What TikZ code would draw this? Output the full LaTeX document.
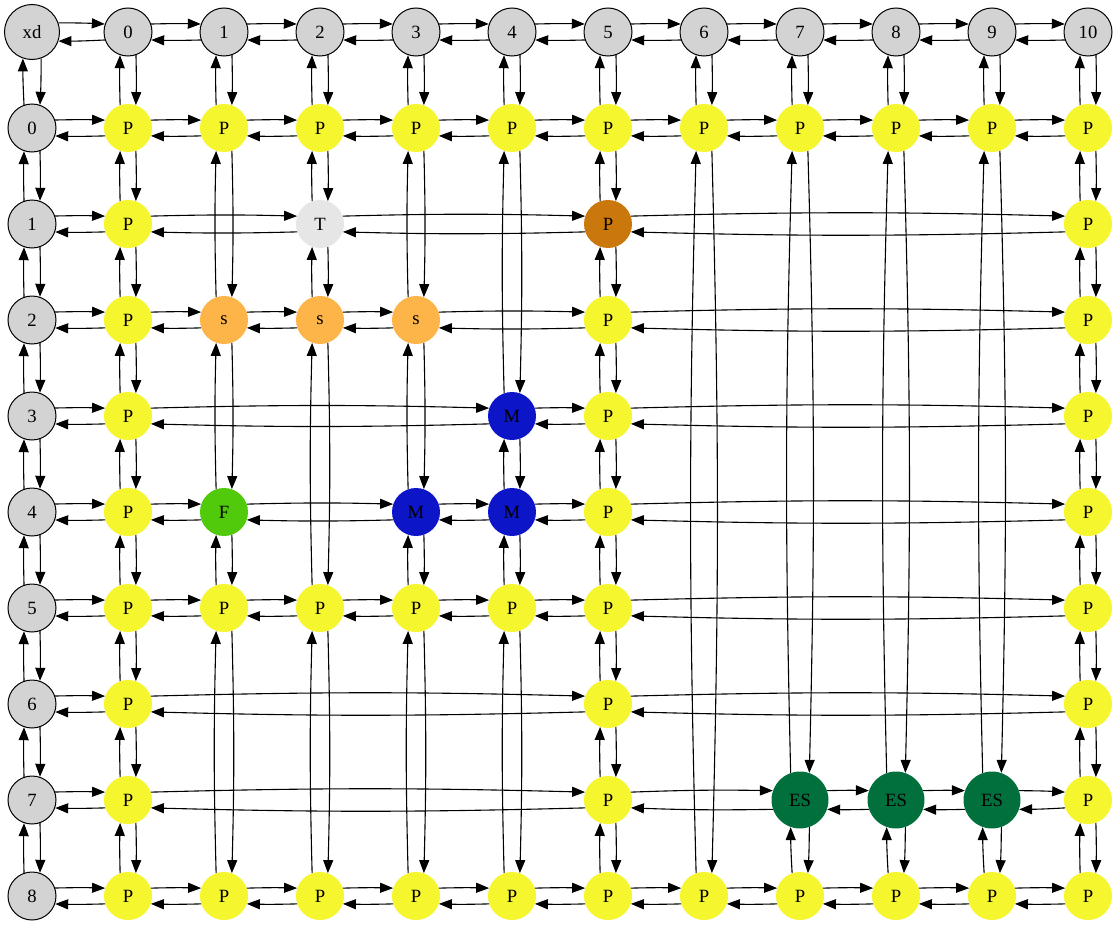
\documentclass[tikz,border=0pt]{standalone}
\usepackage{fontspec}
\setmainfont{Liberation Serif}
\usetikzlibrary{arrows.meta}
\definecolor{hdgray}{RGB}{211,211,211}
\definecolor{pyel}{RGB}{246,246,46}
\definecolor{tgray}{RGB}{230,230,230}
\definecolor{pbrown}{RGB}{202,120,12}
\definecolor{sorange}{RGB}{253,180,72}
\definecolor{mblue}{RGB}{12,22,200}
\definecolor{fgreen}{RGB}{80,202,10}
\definecolor{esgreen}{RGB}{2,112,60}
\tikzset{
  hd/.style={circle,draw=black,line width=1pt,fill=hdgray,minimum size=48pt,inner sep=0pt},
  cell/.style={circle,minimum size=48pt,inner sep=0pt},
  pn/.style={cell,fill=pyel},
  edge/.style={-{Triangle[length=13pt,width=10pt]},line width=1.1pt},
}
\newcommand\hlink[2]{\draw[edge] (#1.19) to[bend left=1.5] (#2.161);
  \draw[edge] (#2.199) to[bend left=1.5] (#1.341);}
\newcommand\vlink[2]{\draw[edge] (#1.289) to[bend left=1.5] (#2.71);
  \draw[edge] (#2.109) to[bend left=1.5] (#1.251);}
\begin{document}
\begin{tikzpicture}[x=1pt,y=-1pt,font=\fontsize{18.7}{20}\selectfont]
\useasboundingbox (0,0) rectangle (1120,926);
% headers
\node[hd,minimum size=55pt] (xd) at (32,32) {xd};
\foreach \c in {0,...,10} \node[hd] (c\c) at ({128+96*\c},32) {\c};
\foreach \r in {0,...,8} \node[hd] (r\r) at (32,{128+96*\r}) {\r};
% cells
\foreach \r in {0,8} \foreach \c in {0,...,10}
  \node[pn] (g\r-\c) at ({128+96*\c},{128+96*\r}) {P};
\foreach \r in {1,...,7} \foreach \c in {0,10}
  \node[pn] (g\r-\c) at ({128+96*\c},{128+96*\r}) {P};
\foreach \r in {2,...,7}
  \node[pn] (g\r-5) at (608,{128+96*\r}) {P};
\foreach \c in {1,...,4}
  \node[pn] (g5-\c) at ({128+96*\c},608) {P};
\node[cell,fill=pbrown] (g1-5) at (608,224) {P};
\node[cell,fill=tgray] (g1-2) at (320,224) {T};
\foreach \c in {1,2,3}
  \node[cell,fill=sorange] (g2-\c) at ({128+96*\c},320) {s};
\node[cell,fill=mblue] (g3-4) at (512,416) {M};
\node[cell,fill=fgreen] (g4-1) at (224,512) {F};
\node[cell,fill=mblue] (g4-3) at (416,512) {M};
\node[cell,fill=mblue] (g4-4) at (512,512) {M};
\foreach \c in {7,8,9}
  \node[cell,fill=esgreen,minimum size=57pt] (g7-\c) at ({128+96*\c},800) {ES};
% links
\hlink{xd}{c0}
\vlink{xd}{r0}
\foreach \c [remember=\c as \p (initially 0)] in {1,...,10} {\hlink{c\p}{c\c}}
\foreach \r [remember=\r as \p (initially 0)] in {1,...,8} {\vlink{r\p}{r\r}}
\foreach \c in {0,...,10} {\vlink{c\c}{g0-\c}}
\foreach \r in {0,...,8} {\hlink{r\r}{g\r-0}}
\foreach \r/\cols in {0/{1,2,3,4,5,6,7,8,9,10},1/{2,5,10},2/{1,2,3,5,10},3/{4,5,10},
    4/{1,3,4,5,10},5/{1,2,3,4,5,10},6/{5,10},7/{5,7,8,9,10},8/{1,2,3,4,5,6,7,8,9,10}}
  {\foreach \c [remember=\c as \p (initially 0)] in \cols {\hlink{g\r-\p}{g\r-\c}}}
\foreach \c/\rows in {0/{1,2,3,4,5,6,7,8},1/{2,4,5,8},2/{1,2,5,8},3/{2,4,5,8},4/{3,4,5,8},
    5/{1,2,3,4,5,6,7,8},6/{8},7/{7,8},8/{7,8},9/{7,8},10/{1,2,3,4,5,6,7,8}}
  {\foreach \r [remember=\r as \p (initially 0)] in \rows {\vlink{g\p-\c}{g\r-\c}}}
\end{tikzpicture}
\end{document}
